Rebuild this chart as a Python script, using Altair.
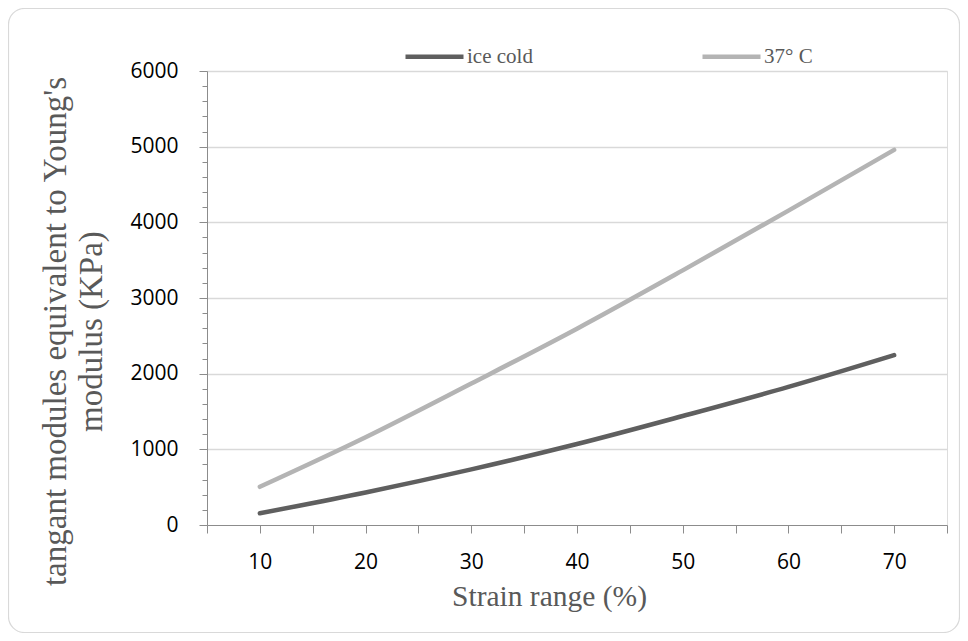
import altair as alt
import pandas as pd

strain = [10, 20, 30, 40, 50, 60, 70]
ice_cold = [155, 430, 735, 1070, 1440, 1825, 2245]
warm_37 = [505, 1160, 1870, 2595, 3365, 4155, 4958]
series_names = ["ice cold", "37° C"]
series_colors = ["#5f5f5f", "#b4b4b4"]
x_ticks = [5, 10, 15, 20, 25, 30, 35, 40, 45, 50, 55, 60, 65, 70, 75]
y_ticks = list(range(0, 6001, 200))

rows = []
for s, v in zip(strain, ice_cold):
    rows.append({"strain": s, "value": v, "series": series_names[0]})
for s, v in zip(strain, warm_37):
    rows.append({"strain": s, "value": v, "series": series_names[1]})
df = pd.DataFrame(rows)

W, H = 740, 454
PAD_L, PAD_T, TOT_W, TOT_H = 199, 63, 952, 625

lines = alt.Chart(df).mark_line(
    strokeWidth=4.5, strokeCap="round", interpolate="catmull-rom"
).encode(
    x=alt.X(
        "strain:Q",
        scale=alt.Scale(domain=[5, 75], nice=False, zero=False),
        axis=alt.Axis(
            values=x_ticks,
            labelExpr="(datum.value % 10 === 0 && datum.value >= 10 && datum.value <= 70) ? datum.label : ''",
            title="Strain range (%)",
            titleFont="Liberation Serif",
            titleFontSize=29.5,
            titleFontWeight="normal",
            titleColor="#595959",
            titleX=342,
            titleY=80,
            titleBaseline="alphabetic",
            labelFont="Open Sans",
            labelFontSize=21,
            labelColor="#000000",
            labelPadding=18,
            tickSize=8,
            tickColor="#8c8c8c",
            domainColor="#8c8c8c",
            grid=False,
        ),
    ),
    y=alt.Y(
        "value:Q",
        scale=alt.Scale(domain=[0, 6000], nice=False),
        axis=alt.Axis(
            values=y_ticks,
            labelExpr="datum.value % 1000 === 0 ? datum.label : ''",
            format="d",
            title=["tangant modules equivalent to Young's", "modulus (KPa)"],
            titleFont="Liberation Serif",
            titleFontSize=33,
            titleFontWeight="normal",
            titleColor="#595959",
            titleLineHeight=36,
            titleAngle=270,
            titleX=-142,
            titleY=260,
            titleAlign="center",
            titleBaseline="alphabetic",
            labelFont="Open Sans",
            labelFontSize=21,
            labelColor="#000000",
            labelPadding=21,
            tickSize={"condition": {"test": "datum.value % 1000 === 0", "value": 8}, "value": 5},
            tickColor="#8c8c8c",
            domainColor="#8c8c8c",
            grid=True,
            gridColor="#d9d9d9",
            gridWidth=1.3,
            gridOpacity={"condition": {"test": "datum.value % 1000 === 0 && datum.value > 0", "value": 1}, "value": 0},
        ),
    ),
    color=alt.Color(
        "series:N",
        scale=alt.Scale(domain=series_names, range=series_colors),
        legend=alt.Legend(
            title=None,
            orient="none",
            legendX=196,
            legendY=-46,
            direction="horizontal",
            symbolType="stroke",
            symbolSize=3364,
            symbolStrokeWidth=4.5,
            labelFont="Liberation Serif",
            labelFontSize=21,
            labelColor="#595959",
            labelOffset=1,
            columnPadding=160,
            padding=0,
        ),
    ),
)

frame = alt.Chart(alt.Data(values=[{"a": 1}])).mark_rect(
    fill=None, stroke="#d9d9d9", strokeWidth=1.2, cornerRadius=16
).encode(
    x=alt.value(-PAD_L + 0.5),
    x2=alt.value(TOT_W - PAD_L - 0.5),
    y=alt.value(-PAD_T + 0.5),
    y2=alt.value(TOT_H - PAD_T - 0.5),
)

chart = alt.layer(frame, lines).properties(
    width=W,
    height=H,
    autosize=alt.AutoSizeParams(type="none"),
    padding={"left": PAD_L, "top": PAD_T, "right": TOT_W - PAD_L - W, "bottom": TOT_H - PAD_T - H},
).configure_view(stroke=None).configure(background="white")

chart.save("out.html", embed_options={"renderer": "svg", "actions": False})
